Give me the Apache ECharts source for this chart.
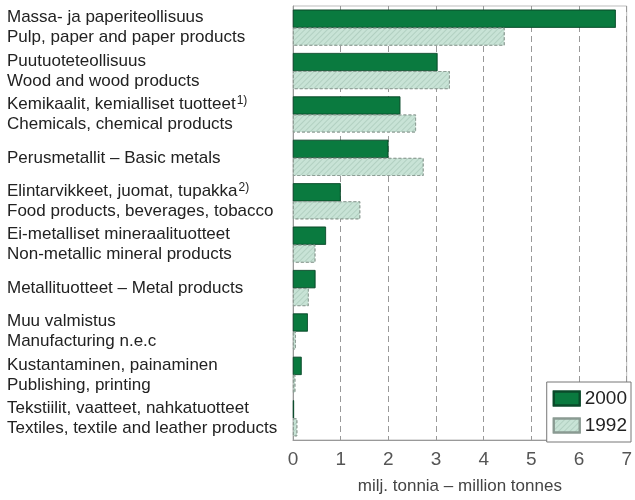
<!DOCTYPE html>
<html>
<head>
<meta charset="utf-8">
<script src="https://cdn.jsdelivr.net/npm/echarts@6/dist/echarts.min.js"></script>
<style>
  html, body { margin: 0; padding: 0; background: #fff; }
  #chart { width: 635px; height: 500px; }
</style>
</head>
<body>
<div id="chart"></div>
<script>
// toimialat (fi / en)
const categoriesFi = [
  'Massa- ja paperiteollisuus',
  'Puutuoteteollisuus',
  'Kemikaalit, kemialliset tuotteet',
  'Perusmetallit – Basic metals',
  'Elintarvikkeet, juomat, tupakka',
  'Ei-metalliset mineraalituotteet',
  'Metallituotteet – Metal products',
  'Muu valmistus',
  'Kustantaminen, painaminen',
  'Tekstiilit, vaatteet, nahkatuotteet'
];
const categoriesEn = [
  'Pulp, paper and paper products',
  'Wood and wood products',
  'Chemicals, chemical products',
  '',
  'Food products, beverages, tobacco',
  'Non-metallic mineral products',
  '',
  'Manufacturing n.e.c',
  'Publishing, printing',
  'Textiles, textile and leather products'
];
const footnotes = ['', '', '1)', '', '2)', '', '', '', '', ''];

// milj. tonnia
const values2000 = [6.77, 3.03, 2.25, 2.0, 1.0, 0.69, 0.47, 0.31, 0.18, 0.02];
const values1992 = [4.44, 3.29, 2.58, 2.74, 1.41, 0.47, 0.33, 0.06, 0.05, 0.09];

const xTicks = [0, 1, 2, 3, 4, 5, 6, 7];

const chart = echarts.init(document.getElementById('chart'));
const font = '"Liberation Sans Narrow", "Liberation Sans", sans-serif';

const option = {
  animation: false,
  aria: { enabled: true, decal: { show: true } },
  grid: {
    left: 293, right: 1, top: 6, bottom: 56,
    show: true, borderColor: '#bdbdbd', borderWidth: 1
  },
  legend: {
    orient: 'vertical',
    right: 4, top: 382,
    icon: 'rect',
    itemWidth: 26, itemHeight: 14, itemGap: 8,
    padding: [7, 4, 7, 6],
    borderColor: '#777', borderWidth: 1,
    backgroundColor: '#fff',
    textStyle: { fontFamily: font, fontSize: 19, color: '#222' },
    data: ['2000', '1992']
  },
  xAxis: {
    type: 'value',
    min: 0, max: 7, interval: 1,
    name: 'milj. tonnia – million tonnes',
    nameLocation: 'middle',
    nameGap: 38,
    nameTextStyle: { fontFamily: font, fontSize: 17, color: '#444' },
    axisLine: { show: true, lineStyle: { color: '#999' } },
    axisTick: { show: false },
    axisLabel: {
      fontFamily: font, fontSize: 19, color: '#555', margin: 10,
      formatter: v => xTicks.includes(v) ? String(v) : ''
    },
    splitLine: { show: true, lineStyle: { color: '#999', type: [6, 4], width: 1 } }
  },
  yAxis: {
    type: 'category',
    inverse: true,
    data: categoriesFi.map((c, i) => i),
    axisLine: { show: true, lineStyle: { color: '#999' } },
    axisTick: { show: false },
    axisLabel: {
      align: 'left',
      margin: 286,
      fontFamily: font,
      fontSize: 17,
      color: '#222',
      lineHeight: 20,
      formatter: i => {
        let s = '{t|' + categoriesFi[i] + '}';
        if (footnotes[i]) s += '{sup|' + footnotes[i] + '}';
        if (categoriesEn[i]) s += '\n{t|' + categoriesEn[i] + '}';
        return s;
      },
      rich: {
        t: { fontFamily: font, fontSize: 17, color: '#222', lineHeight: 20 },
        sup: { fontFamily: font, fontSize: 12, color: '#222', verticalAlign: 'top', lineHeight: 20, padding: [0, 0, 6, 1] }
      }
    }
  },
  series: [
    {
      name: '2000',
      type: 'bar',
      data: values2000,
      barWidth: 18,
      barGap: '0%',
      itemStyle: {
        color: '#0a7a3f',
        borderColor: '#0a4a2a',
        borderWidth: 0.6,
        decal: { symbol: 'none' }
      }
    },
    {
      name: '1992',
      type: 'bar',
      data: values1992,
      barWidth: 18,
      barGap: '0%',
      itemStyle: {
        color: '#c8e3d6',
        borderColor: '#8a9a92',
        borderWidth: 0.8,
        borderType: [3, 2],
        decal: {
          symbol: 'rect',
          color: 'rgba(110,150,130,0.25)',
          dashArrayX: [1, 0],
          dashArrayY: [1, 3],
          rotation: -Math.PI / 4,
          symbolSize: 1
        }
      }
    }
  ]
};

chart.setOption(option);
</script>
</body>
</html>
